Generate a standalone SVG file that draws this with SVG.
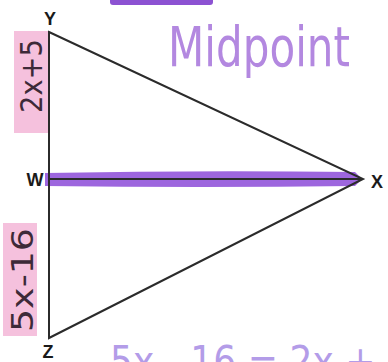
<svg xmlns="http://www.w3.org/2000/svg" width="388" height="362" viewBox="0 0 388 362">
<style>
.edge{stroke:#2b2b2b;stroke-width:2;fill:none;stroke-linejoin:miter}
.lbl{font-family:"Liberation Sans",Arial,sans-serif;font-weight:bold;font-size:18px;fill:#1a1a1a}
.hand{font-family:"DejaVu Sans","Liberation Sans",sans-serif;fill:#3d2a38}
.note{font-family:"DejaVu Sans","Liberation Sans",sans-serif}
</style>
<rect width="388" height="362" fill="#ffffff"/>
<rect x="110" y="-4" width="103" height="9" rx="3" fill="#8c52d2"/>
<rect x="14" y="31" width="34" height="102" fill="#f5c1dd"/>
<rect x="3" y="223" width="34" height="113" fill="#f5c1dd"/>
<path d="M45,173 Q200,170 355,172 L362,179 L355,186 Q200,188 45,186 Z" fill="#9d66de"/>
<g id="connectors">
<path class="edge" d="M49,32 L363,179 L49,338 Z"/>
<line class="edge" x1="49" y1="179" x2="363" y2="179"/>
</g>
<g id="node-Y"><text class="lbl" x="50" y="25" text-anchor="middle">Y</text></g>
<g id="node-W"><text class="lbl" x="35" y="186" text-anchor="middle">W</text></g>
<g id="node-X"><text class="lbl" x="377" y="188" text-anchor="middle">X</text></g>
<g id="node-Z"><text class="lbl" x="48" y="358" text-anchor="middle">Z</text></g>
<text class="hand" x="0" y="0" font-size="30" text-anchor="middle" textLength="74" lengthAdjust="spacingAndGlyphs" transform="translate(42,76) rotate(-90)">2x+5</text>
<text class="hand" x="0" y="0" font-size="30" text-anchor="middle" textLength="104" lengthAdjust="spacingAndGlyphs" transform="translate(33,280) rotate(-90)">5x-16</text>
<text class="note" x="0" y="0" font-size="40" fill="#b388e0" textLength="182" lengthAdjust="spacingAndGlyphs" transform="translate(168,66) scale(1,1.4)">Midpoint</text>
<text class="note" x="110" y="376" font-size="42" fill="#b39ce8" textLength="300" lengthAdjust="spacingAndGlyphs">5x - 16 = 2x + 5</text>
</svg>
